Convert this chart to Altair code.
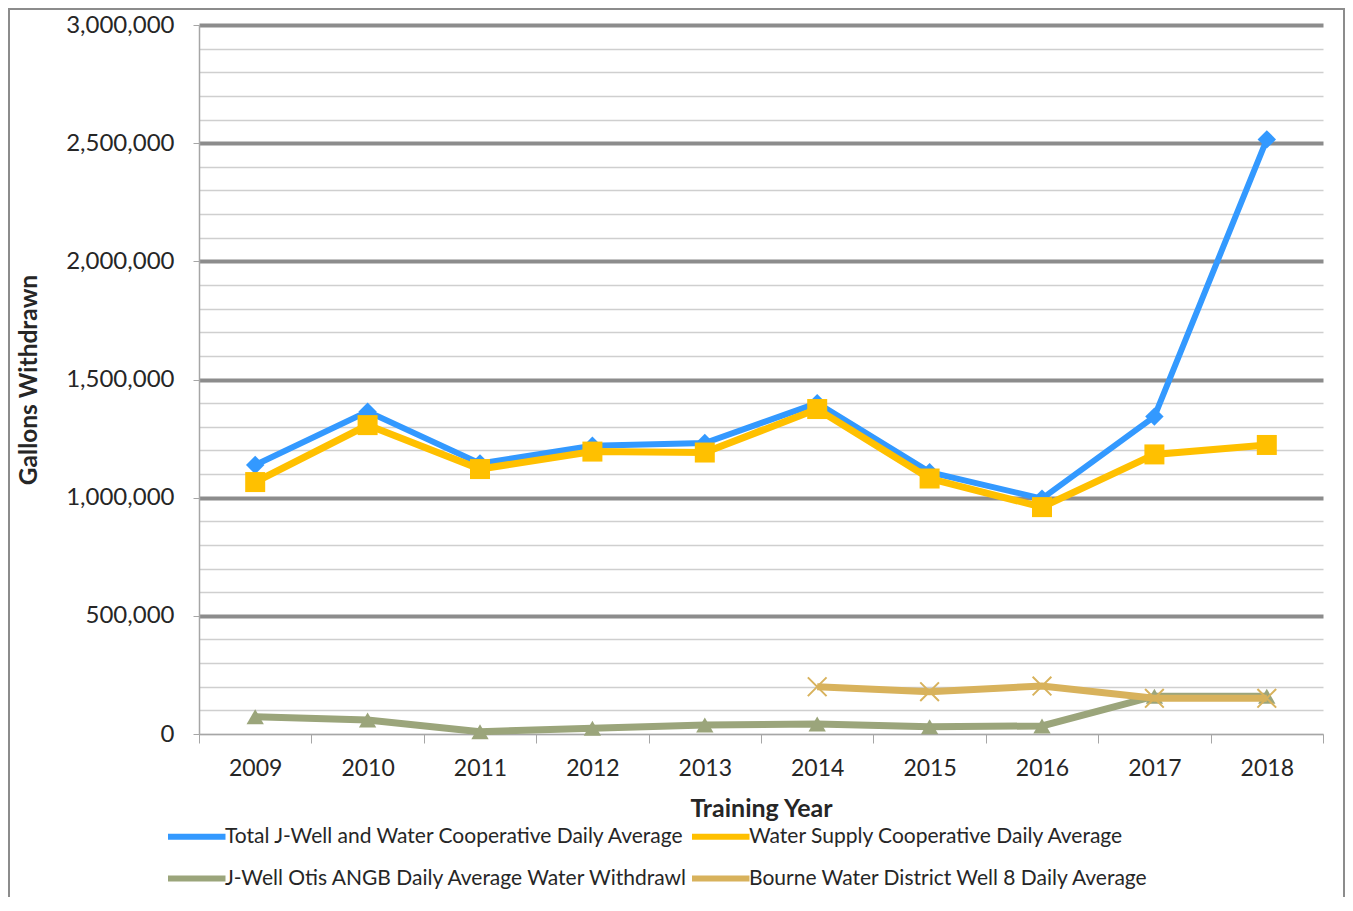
import altair as alt
import pandas as pd

years = ["2009", "2010", "2011", "2012", "2013", "2014", "2015", "2016", "2017", "2018"]
total = [1138000, 1364000, 1145000, 1220000, 1231000, 1400000, 1108000, 996000, 1343000, 2516000]
coop = [1066000, 1307000, 1121000, 1195000, 1191000, 1375000, 1081000, 960000, 1183000, 1223000]
otis = [73000, 59000, 10000, 24000, 38000, 42000, 31000, 34000, 160000, 160000]
bourne_years = ["2014", "2015", "2016", "2017", "2018"]
bourne = [200000, 179000, 203000, 151000, 151000]

names = [
    "Total J-Well and Water Cooperative Daily Average",
    "Water Supply Cooperative Daily Average",
    "J-Well Otis ANGB Daily Average Water Withdrawl",
    "Bourne Water District Well 8 Daily Average",
]
colors = ["#3399FF", "#FFC000", "#9BA57B", "#D8B25C"]

rows = []
for yrs, vals, nm in [(years, total, names[0]), (years, coop, names[1]),
                      (years, otis, names[2]), (bourne_years, bourne, names[3])]:
    for y, v in zip(yrs, vals):
        rows.append({"year": y, "value": v, "series": nm})
df = pd.DataFrame(rows)

FONT = "Lato"
TXT = "#262626"

x_enc = alt.X(
    "year:N",
    sort=years,
    scale=alt.Scale(type="band", paddingInner=0, paddingOuter=0, domain=years),
    bandPosition=0.5,
    axis=alt.Axis(
        title="Training Year",
        tickBand="extent",
        labelAngle=0,
        labelFont=FONT,
        labelFontSize=23,
        labelColor=TXT,
        labelPadding=14,
        tickSize=9,
        tickColor="#a6a6a6",
        domainColor="#a6a6a6",
        domainWidth=1.5,
        titleFont=FONT,
        titleFontSize=25,
        titleFontWeight="bold",
        titleColor=TXT,
        titlePadding=16,
        grid=False,
    ),
)

major = "datum.value % 500000 === 0"
y_enc = alt.Y(
    "value:Q",
    scale=alt.Scale(domain=[0, 3000000], nice=False),
    axis=alt.Axis(
        title="Gallons Withdrawn",
        values=list(range(0, 3000001, 100000)),
        labelExpr="datum.value % 500000 === 0 ? format(datum.value, ',') : ''",
        labelFont=FONT,
        labelFontSize=24,
        labelColor=TXT,
        labelPadding=19,
        tickSize=6,
        tickColor={"condition": {"test": major, "value": "#a6a6a6"}, "value": "rgba(0,0,0,0)"},
        domainColor="#a6a6a6",
        domainWidth=1.5,
        grid=True,
        gridColor={"condition": {"test": major + " && datum.value > 0", "value": "#8c8c8c"},
                   "value": "#cfcfcf"},
        gridWidth={"condition": {"test": major + " && datum.value > 0", "value": 4},
                   "value": 1.3},
        titleFont=FONT,
        titleFontSize=24.5,
        titleFontWeight="bold",
        titleColor=TXT,
        titlePadding=24,
    ),
)

color_enc = alt.Color(
    "series:N",
    scale=alt.Scale(domain=names, range=colors),
    sort=names,
    legend=alt.Legend(
        title=None,
        orient="none",
        legendX=-34,
        legendY=797,
        direction="horizontal",
        columns=2,
        symbolType="M-1,0L4,0",
        symbolSize=529,
        symbolStrokeWidth=6,
        labelFont=FONT,
        labelFontSize=21,
        labelColor=TXT,
        labelOffset=31,
        labelLimit=600,
        columnPadding=-17,
        rowPadding=15,
    ),
)

base = alt.Chart(df)
layers = []
line_widths = [6, 7, 7, 7]
shapes = ["diamond", "square", "triangle-up", "M-1,-1L1,1M-1,1L1,-1"]
sizes = [340, 400, 300, 350]
for i, nm in enumerate(names):
    sub = base.transform_filter(alt.datum.series == nm)
    line = sub.mark_line(strokeWidth=line_widths[i]).encode(
        x=x_enc, y=y_enc, color=color_enc
    )
    if i < 3:
        pts = sub.mark_point(filled=True, shape=shapes[i], size=sizes[i], opacity=1,
                             color=colors[i]).encode(x=x_enc, y=y_enc)
    else:
        pts = sub.mark_point(filled=False, shape=shapes[i], size=sizes[i], opacity=1,
                             color=colors[i], strokeWidth=2).encode(x=x_enc, y=y_enc)
    layers += [line, pts]

frame = alt.Chart(pd.DataFrame({"f": [0]})).mark_rect(
    fill=None, stroke="#8c8c8c", strokeWidth=2
).encode(
    x=alt.value(-190), x2=alt.value(1145), y=alt.value(-16), y2=alt.value(900)
)

chart = alt.layer(*layers, frame).properties(
    width=1124,
    height=709,
    autosize=alt.AutoSizeParams(type="none"),
    padding={"left": 191, "top": 17, "right": 22, "bottom": 163},
    background="white",
).configure_view(stroke=None)

chart.save("out.html", embed_options={"renderer": "svg", "actions": False})
